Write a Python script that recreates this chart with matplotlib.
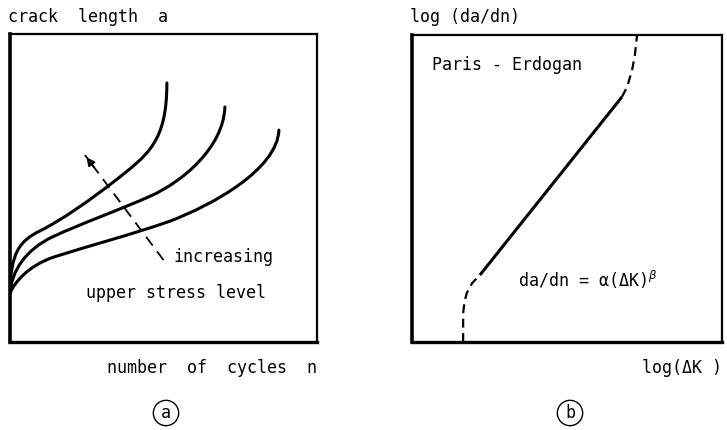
import matplotlib
matplotlib.use("Agg")
import matplotlib.pyplot as plt
from matplotlib.path import Path
from matplotlib.patches import PathPatch

# crack growth curves a(n), one per upper stress level (low -> high).
# cubic bezier nodes: start, then (ctrl, ctrl, end) per segment
curve_low_n = [0, 0.15, 0.6, 1.4, 2.5, 4.0, 5.2, 6.6, 8.7, 8.76]
curve_low_a = [1.58, 1.95, 2.47, 2.75, 3.1, 3.5, 3.92, 4.45, 5.6, 6.88]
curve_mid_n = [0, 0.05, 0.5, 1.4, 2.3, 3.6, 4.6, 5.6, 6.95, 7.0]
curve_mid_a = [1.58, 2.3, 3.0, 3.42, 3.84, 4.3, 4.75, 5.2, 6.3, 7.63]
curve_high_n = [0, 0.02, 0.3, 1.0, 1.7, 2.6, 3.4, 4.5, 5.11, 5.11]
curve_high_a = [1.58, 2.9, 3.28, 3.62, 3.97, 4.6, 5.22, 6.08, 6.5, 8.41]

# stress level arrow (tail, head)
arrow_n = [5.0, 2.44]
arrow_a = [2.66, 6.07]

# da/dn vs dK : threshold part, Paris line, unstable part
thresh_k = [1.65, 1.65, 1.70, 1.77, 1.94, 2.19]
thresh_r = [0.0, 0.94, 1.35, 1.60, 1.92, 2.18]
paris_k = [2.19, 6.77]
paris_r = [2.18, 7.98]
unstable_k = [6.77, 6.94, 7.10, 7.19, 7.26]
unstable_r = [7.98, 8.31, 8.86, 9.35, 10.0]

fs = 12
plt.rcParams["font.family"] = ["DejaVu Sans Mono", "DejaVu Sans"]
plt.rcParams["mathtext.fontset"] = "dejavusans"

fig = plt.figure(figsize=(7.27, 4.30), dpi=100)
ax1 = fig.add_axes([10 / 727, 88 / 430, 307 / 727, 308 / 430])
ax2 = fig.add_axes([412 / 727, 88 / 430, 310 / 727, 307 / 430])

for ax in (ax1, ax2):
    ax.set_xlim(0, 10)
    ax.set_ylim(0, 10)
    ax.set_xticks([])
    ax.set_yticks([])
    ax.spines.left.set_linewidth(2.6)
    ax.spines.bottom.set_linewidth(2.4)
    ax.spines.top.set_linewidth(1.6)
    ax.spines.right.set_linewidth(1.6)


def bezier_curve(ax, xs, ys):
    codes = [Path.MOVETO] + [Path.CURVE4] * (len(xs) - 1)
    path = Path(list(zip(xs, ys)), codes)
    ax.add_patch(PathPatch(path, fc="none", ec="black", lw=2.2, capstyle="round"))


bezier_curve(ax1, curve_low_n, curve_low_a)
bezier_curve(ax1, curve_mid_n, curve_mid_a)
bezier_curve(ax1, curve_high_n, curve_high_a)

# dashed shaft, solid head
ax1.plot(arrow_n, arrow_a, color="black", lw=1.3, ls=(0, (6, 4)))
ax1.annotate("", xy=(arrow_n[1], arrow_a[1]),
             xytext=(arrow_n[1] + 0.35, arrow_a[1] - 0.47),
             arrowprops=dict(arrowstyle="-|>", color="black", lw=1.3, mutation_scale=12))

ax1.text(5.31, 2.76, "increasing", fontsize=fs, va="center", ha="left")
ax1.text(2.48, 1.59, "upper stress level", fontsize=fs, va="center", ha="left")

ax2.plot(thresh_k, thresh_r, color="black", lw=1.6, ls=(0, (4, 2.5)))
ax2.plot(paris_k, paris_r, color="black", lw=2.2, solid_capstyle="butt")
ax2.plot(unstable_k, unstable_r, color="black", lw=1.6, ls=(0, (4, 2.5)))

ax2.text(0.65, 9.02, "Paris - Erdogan", fontsize=fs, va="center", ha="left")
ax2.text(3.42, 2.02, r"da/dn = α(ΔK)$^{\beta}$", fontsize=fs, va="center", ha="left")

fig.text(8 / 727, 1 - 17 / 430, "crack  length  a", fontsize=fs, va="center", ha="left")
fig.text(410 / 727, 1 - 17 / 430, "log (da/dn)", fontsize=fs, va="center", ha="left")
fig.text(317 / 727, 1 - 368 / 430, "number  of  cycles  n", fontsize=fs, va="center", ha="right")
fig.text(722 / 727, 1 - 368 / 430, "log(ΔK )", fontsize=fs, va="center", ha="right")

circ = dict(boxstyle="circle,pad=0.22", fc="white", ec="black", lw=1.0)
fig.text(166 / 727, 1 - 413 / 430, "a", fontsize=fs, va="center", ha="center", bbox=circ)
fig.text(570 / 727, 1 - 413 / 430, "b", fontsize=fs, va="center", ha="center", bbox=circ)

fig.savefig("out.png", dpi=100)
